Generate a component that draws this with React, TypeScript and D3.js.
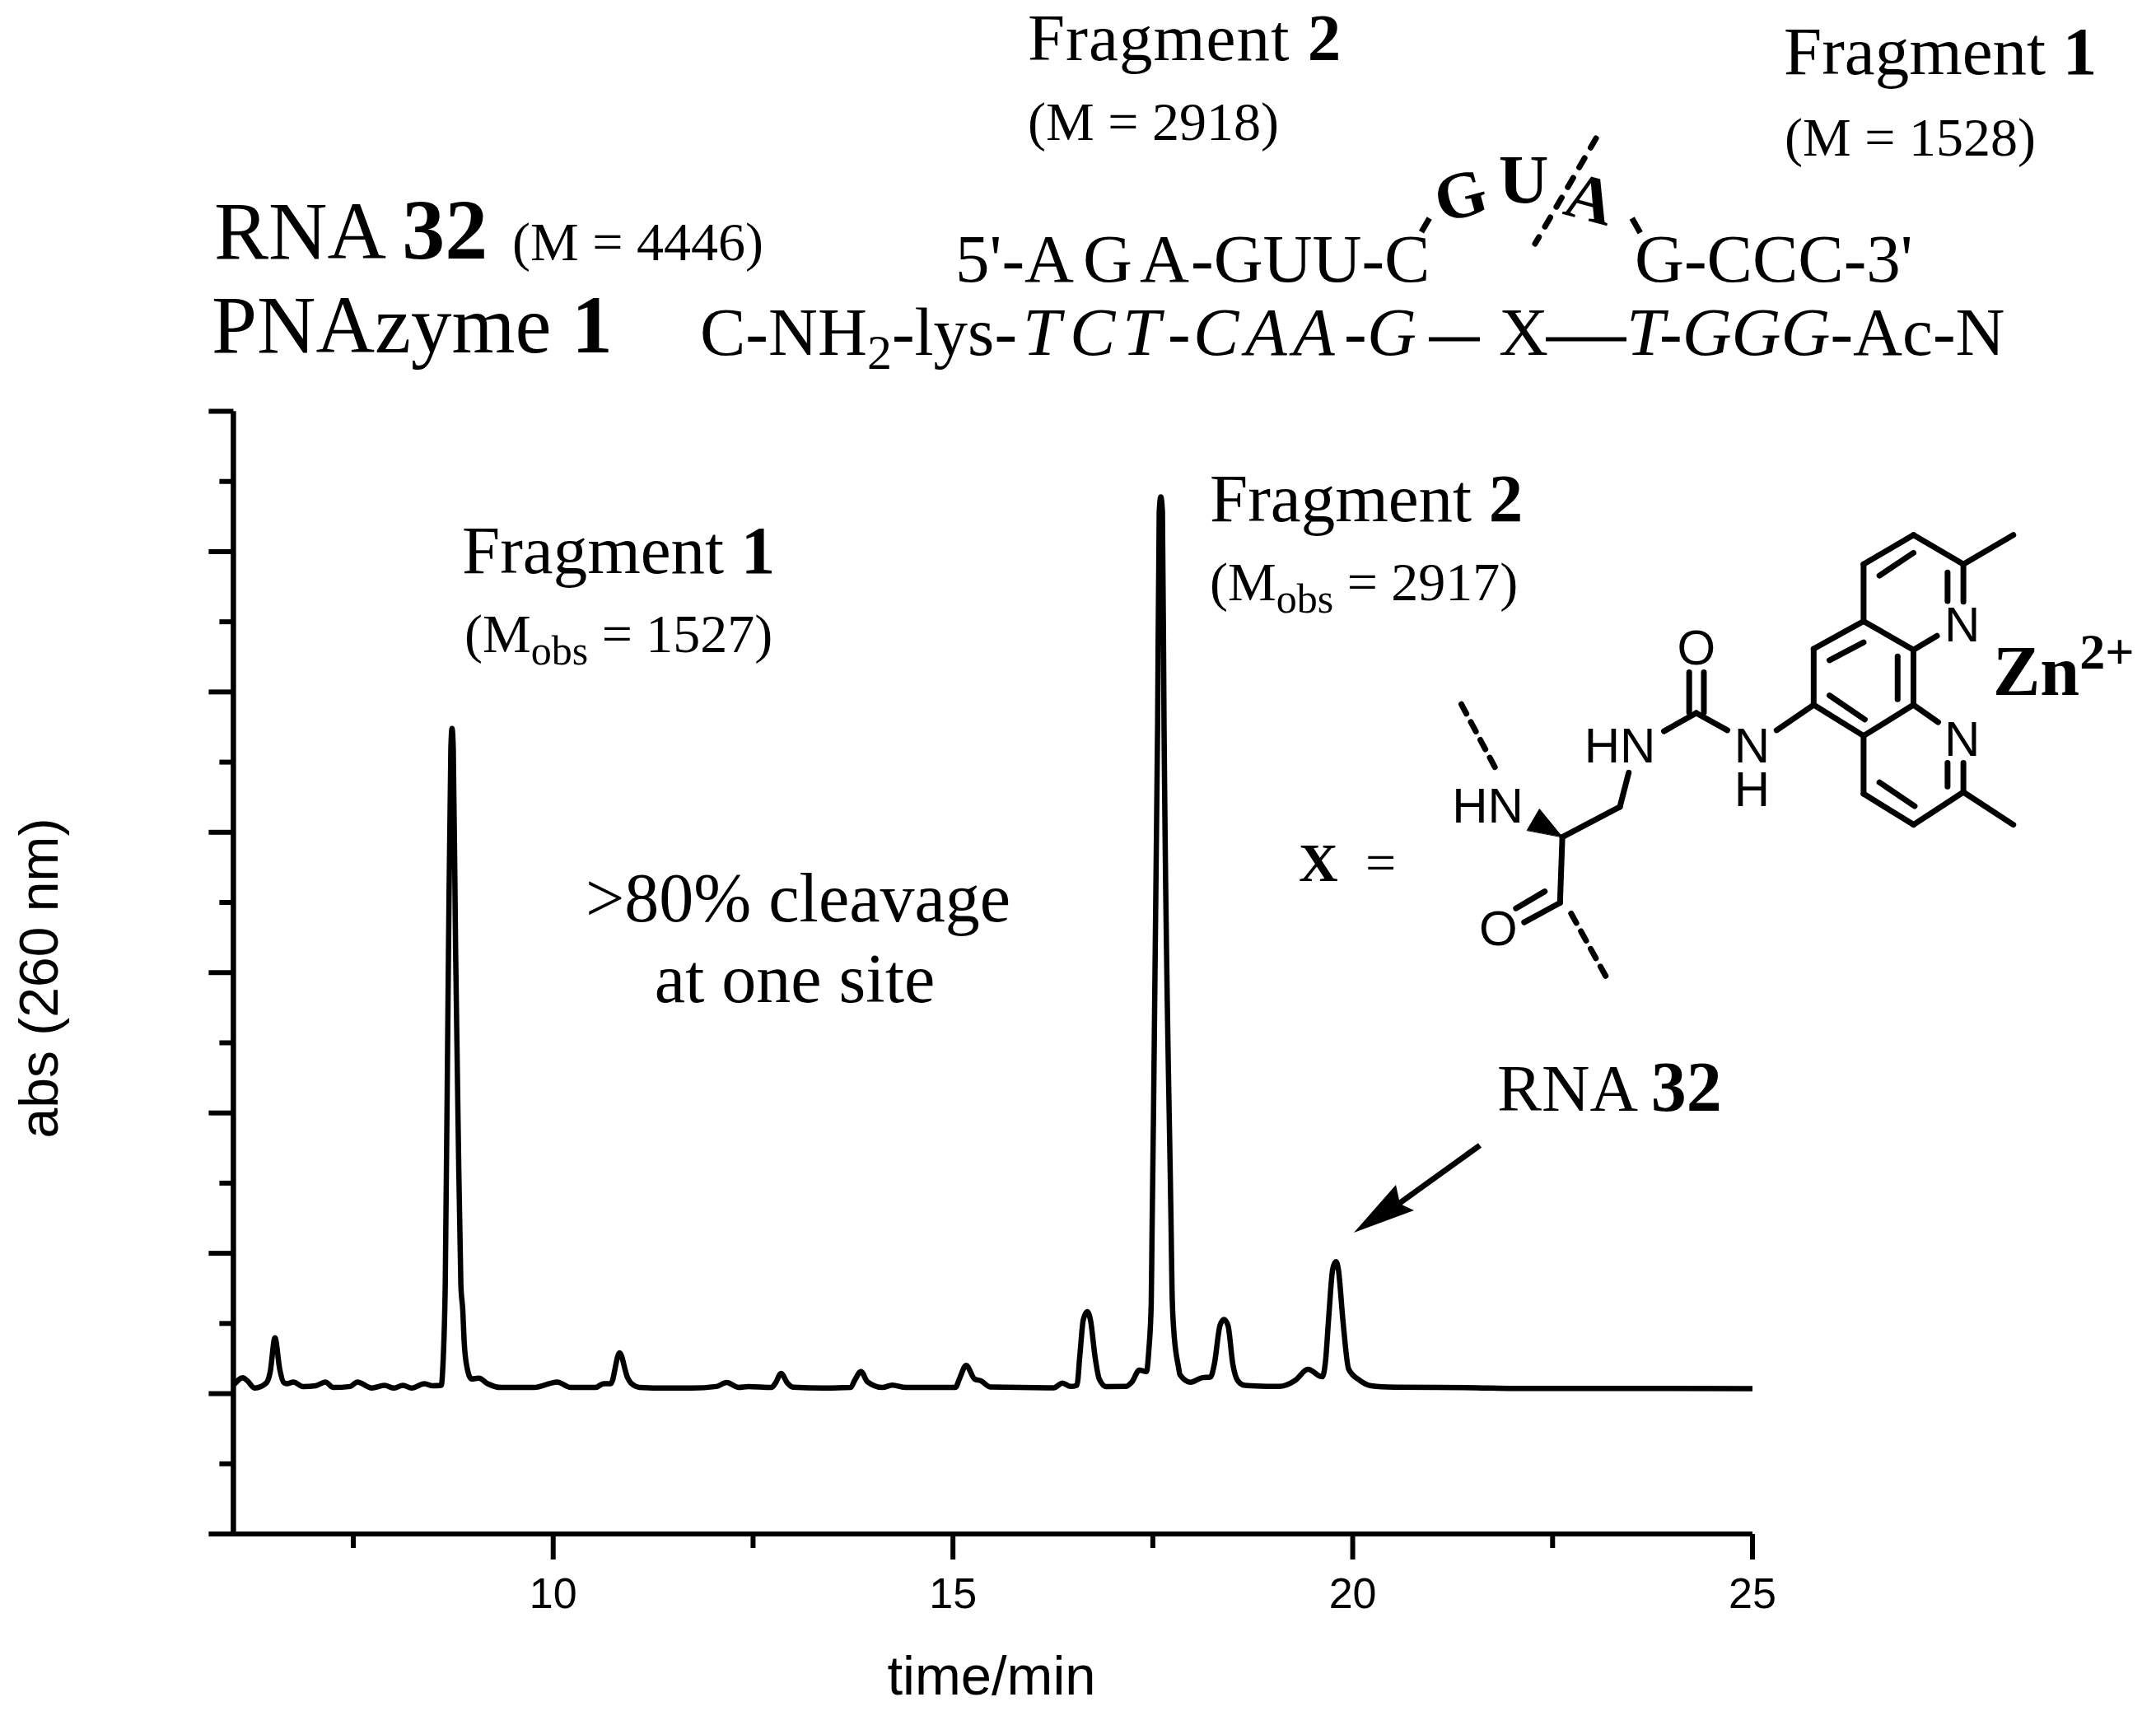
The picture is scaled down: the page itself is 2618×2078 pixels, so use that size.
import { useEffect, useRef } from "react";
import { select, scaleLinear, axisBottom, axisLeft, line, curveMonotoneX } from "d3";

const WIDTH = 2618;
const HEIGHT = 2078;
const SERIF = "'Liberation Serif', serif";
const SANS = "'Liberation Sans', sans-serif";

// HPLC trace: minutes and absorbance (arbitrary units, one major tick = 100)
const times = [
  6.01, 6.12, 6.17, 6.27, 6.41, 6.46, 6.52, 6.58, 6.63, 6.67, 6.75, 6.87, 7.03, 7.15, 7.25, 7.46, 7.55, 7.73, 7.89,
  8.01, 8.12, 8.23, 8.39, 8.49, 8.6, 8.62, 8.65, 8.69, 8.72, 8.735, 8.75, 8.78, 8.81, 8.845, 8.87, 8.885, 8.92, 8.98, 9.07,
  9.18, 9.35, 9.76, 10.05, 10.22, 10.53, 10.63, 10.72, 10.83, 10.93, 10.98, 11.08, 11.42, 11.73, 12.04, 12.17, 12.32,
  12.44, 12.73, 12.78, 12.85, 12.93, 13.0, 13.38, 13.72, 13.77, 13.85, 13.93, 14.12, 14.24, 14.41, 15.03, 15.08,
  15.165, 15.27, 15.35, 15.47, 16.26, 16.37, 16.47, 16.55, 16.59, 16.63, 16.68, 16.72, 16.78, 16.83, 16.92, 17.16,
  17.24, 17.33, 17.42, 17.45, 17.48, 17.49, 17.56, 17.58, 17.6, 17.62, 17.64, 17.73, 17.74, 17.76, 17.82, 17.84,
  17.97, 18.12, 18.22, 18.27, 18.34, 18.39, 18.44, 18.5, 18.56, 18.65, 19.08, 19.28, 19.44, 19.62, 19.66, 19.7,
  19.75, 19.79, 19.82, 19.88, 19.95, 20.09, 20.23, 20.52, 21.55, 22, 25,
];
const absorbance = [
  106.5, 111.4, 109.4, 104, 107.5, 115.3, 139.8, 117.3, 107.9, 107.1, 108.3, 105, 105.6, 108.3, 104.4, 105.1, 108.3,
  104, 105.9, 104, 105.9, 104, 107.1, 105.6, 105.9, 119.2, 178, 412.9, 559.8, 573.9, 559.8, 412.9, 295, 178, 158.6, 138.6,
  119.2, 110.4, 111, 107.1, 104.4, 104.4, 108.3, 104.4, 104.4, 107.1, 107.1, 129.1, 111.4, 107.1, 104.5, 104, 104,
  105.1, 107.9, 104.4, 105, 104.4, 107.5, 114.4, 107.5, 104.6, 104, 104.4, 109.4, 115.7, 108.5, 104.4, 106.1, 104.4,
  104.4, 110.4, 120.2, 110.4, 109.1, 104.7, 104.2, 107.5, 105.1, 105.9, 129.1, 152.5, 158.4, 152.5, 125.1, 110.4, 105,
  105.1, 108.5, 116.7, 115.7, 131, 164.4, 213.2, 577.4, 728.4, 739, 728.4, 577.4, 213.2, 174, 146.7, 119.2, 113.4,
  108.1, 111.4, 111.8, 121.2, 148.6, 152.9, 148.6, 121.2, 109.4, 105.9, 105.1, 109.4, 117.3, 112, 123.2, 154.5, 188.7,
  194, 188.7, 150.6, 117.3, 109.4, 105.6, 104.6, 104.2, 103.7, 103.6,
];

const xMajorTicks = [10, 15, 20, 25];
const xMinorTicks = [7.5, 12.5, 17.5, 22.5];
const yMajorTicks = [0, 100, 200, 300, 400, 500, 600, 700, 800];
const yMinorTicks = [50, 150, 250, 350, 450, 550, 650, 750];

// skeleton of X, in a 1568 x 1568 drawing space mapped onto the lower right of the figure
const bonds = [
  [1070, 340, 1070, 165], [1070, 165, 1155, 75], [1155, 75, 1240, 165], [1240, 165, 1325, 75], [1240, 165, 1240, 280],
  [1213, 190, 1213, 278], [1097, 200, 1155, 130], [1070, 340, 1155, 428], [1155, 428, 1195, 385], [1070, 340, 985, 425],
  [985, 425, 985, 597], [985, 597, 1070, 692], [1070, 692, 1155, 597], [1155, 597, 1155, 428], [1012, 460, 1070, 405],
  [1012, 568, 1072, 642], [1128, 448, 1128, 580], [1155, 597, 1197, 650], [1070, 692, 1070, 870], [1070, 870, 1155, 965],
  [1155, 965, 1240, 865], [1240, 865, 1325, 965], [1240, 865, 1240, 775], [1213, 775, 1213, 848], [1097, 835, 1157, 908],
  [985, 597, 922, 675], [838, 675, 785, 622], [785, 622, 730, 678], [773, 497, 773, 620], [798, 497, 798, 620],
  [670, 805, 655, 910], [655, 910, 557, 1003], [557, 1003, 553, 1205], [553, 1205, 492, 1265], [527, 1170, 478, 1222],
];
const dashedBonds = [
  [385, 595, 447, 805],
  [572, 1238, 637, 1450],
];
const atoms = [
  ["N", 1238, 350], ["N", 1238, 700], ["O", 785, 420],
  ["HN", 655, 720], ["HN", 430, 905], ["O", 448, 1282],
];

const sx = scaleLinear().domain([0, 1568]).range([1500, 2618]);
const sy = scaleLinear().domain([0, 1568]).range([620, 1240]);

function Structure() {
  return (
    <g stroke="#000" strokeWidth={7} strokeLinecap="round">
      {bonds.map((b, i) => (
        <line key={i} x1={sx(b[0])} y1={sy(b[1])} x2={sx(b[2])} y2={sy(b[3])} />
      ))}
      {dashedBonds.map((b, i) => (
        <line key={i} x1={sx(b[0])} y1={sy(b[1])} x2={sx(b[2])} y2={sy(b[3])} strokeDasharray="13 11.5" />
      ))}
      <path d={`M${sx(557)},${sy(1003)}L${sx(518)},${sy(917)}L${sx(497)},${sy(982)}Z`} fill="#000" strokeWidth={1} />
      <g textAnchor="middle" fontFamily={SANS} fontSize={60} stroke="none" fill="#000">
        {atoms.map((a, i) => (
          <text key={i} x={sx(a[1])} y={sy(a[2]) + 21}>
            {a[0]}
          </text>
        ))}
        {/* urea NH, stacked */}
        <text y={sy(720) + 21}>
          <tspan x={sx(880)}>N</tspan>
          <tspan x={sx(880)} dy={53}>H</tspan>
        </text>
      </g>
    </g>
  );
}

function App() {
  const svgRef = useRef(null);

  useEffect(() => {
    const svg = select(svgRef.current);
    const xScale = scaleLinear().domain([6, 25]).range([283.4, 2128]);
    const yScale = scaleLinear().domain([0, 800]).range([1863, 499.5]);

    const trace = line()
      .x((d) => xScale(d[0]))
      .y((d) => yScale(d[1]))
      .curve(curveMonotoneX);

    svg
      .select(".trace")
      .selectAll("path")
      .data([times.map((t, i) => [t, absorbance[i]])])
      .join("path")
      .attr("d", trace)
      .attr("fill", "none")
      .attr("stroke", "#000")
      .attr("stroke-width", 6.5)
      .attr("stroke-linejoin", "round");

    const xMajor = axisBottom(xScale).tickValues(xMajorTicks).tickSize(31).tickSizeOuter(0).tickPadding(22).offset(0);
    const xMinor = axisBottom(xScale).tickValues(xMinorTicks).tickSize(17).tickSizeOuter(0).tickFormat(() => "").offset(0);
    const yMajor = axisLeft(yScale).tickValues(yMajorTicks).tickSize(30).tickSizeOuter(0).tickFormat(() => "").offset(0);
    const yMinor = axisLeft(yScale).tickValues(yMinorTicks).tickSize(17).tickSizeOuter(0).tickFormat(() => "").offset(0);

    svg.select(".x-major").attr("transform", "translate(0,1863)").call(xMajor);
    svg.select(".x-minor").attr("transform", "translate(0,1863)").call(xMinor);
    svg.select(".y-major").attr("transform", "translate(283.4,0)").call(yMajor);
    svg.select(".y-minor").attr("transform", "translate(283.4,0)").call(yMinor);

    svg.selectAll(".axis path, .axis line").attr("stroke", "#000").attr("stroke-width", 6);
    svg
      .selectAll(".axis text")
      .attr("font-family", SANS)
      .attr("font-size", 52)
      .attr("fill", "#000");
  }, []);

  return (
    <svg
      ref={svgRef}
      width={WIDTH}
      height={HEIGHT}
      viewBox={`0 0 ${WIDTH} ${HEIGHT}`}
      style={{ position: "absolute", left: 0, top: 0, background: "#fff" }}
    >
      <g className="axis y-minor" />
      <g className="axis y-major" />
      <g className="axis x-minor" />
      <g className="axis x-major" />
      <g className="trace" />

      <text x={1204} y={2058} textAnchor="middle" fontFamily={SANS} fontSize={67}>time/min</text>
      <text transform="translate(70,1188) rotate(-90)" textAnchor="middle" fontFamily={SANS} fontSize={66}>abs (260 nm)</text>

      <g fontFamily={SERIF} fill="#000">
        {/* header */}
        <text x={1248} y={73} fontSize={81} letterSpacing={1}>Fragment <tspan fontWeight="bold">2</tspan></text>
        <text x={1248} y={170} fontSize={66}>(M = 2918)</text>
        <text x={2166} y={90} fontSize={83}>Fragment <tspan fontWeight="bold">1</tspan></text>
        <text x={2167} y={189} fontSize={66}>(M = 1528)</text>
        <text x={260} y={314} fontSize={99}>RNA <tspan fontWeight="bold" fontSize={104}>32</tspan></text>
        <text x={622} y={316} fontSize={66}>(M = 4446)</text>
        <text x={257} y={428} fontSize={99}>PNAzyme <tspan fontWeight="bold">1</tspan></text>

        {/* RNA strand */}
        <g fontSize={83}>
          <text x={1160} y={342}>5'-A</text>
          <text x={1315} y={342}>G</text>
          <text x={1384} y={342}>A</text>
          <text x={1446} y={342}>-GUU-C</text>
          <text x={1985} y={342}>G-CCC-3'</text>
        </g>
        <g fontWeight="bold" textAnchor="middle">
          <text transform="translate(1773,236) rotate(-15)" y={28} fontSize={80}>G</text>
          <text x={1850} y={247} fontSize={84}>U</text>
          <text transform="translate(1931,241) rotate(15)" y={27} fontSize={80}>A</text>
        </g>
        <g stroke="#000" strokeWidth={7}>
          <line x1={1735.7} y1={265} x2={1726} y2={281.7} />
          <line x1={1981.7} y1={265} x2={1991.7} y2={282.7} />
          <line x1={1938} y1={168} x2={1864} y2={296} strokeDasharray="13 14.7" strokeLinecap="round" />
        </g>

        {/* PNA strand */}
        <g fontSize={83}>
          <text x={850} y={431}>
            C-NH<tspan fontSize={60} dy={17}>2</tspan><tspan dy={-17}>-lys-</tspan>
          </text>
          <text y={431} x="1242 1299 1363 1418 1449 1512 1570 1632 1660" fontStyle="italic">TCT-CAA-G</text>
          <text x={1820} y={431}>X</text>
          <text x={1975} y={431}><tspan fontStyle="italic">T-GGG</tspan>-Ac-N</text>
        </g>
        <g stroke="#000" strokeWidth={5}>
          <line x1={1735} y1={412} x2={1797} y2={412} />
          <line x1={1877} y1={412} x2={1975} y2={412} />
        </g>

        {/* annotations */}
        <text x={561} y={696} fontSize={83}>Fragment <tspan fontWeight="bold">1</tspan></text>
        <text x={564} y={792} fontSize={66}>(M<tspan fontSize={50} dy={15}>obs</tspan><tspan dy={-15}> = 1527)</tspan></text>
        <text x={1469} y={633} fontSize={83}>Fragment <tspan fontWeight="bold">2</tspan></text>
        <text x={1469} y={729} fontSize={66}>(M<tspan fontSize={50} dy={15}>obs</tspan><tspan dy={-15}> = 2917)</tspan></text>
        <text x={969} y={1119} fontSize={84} textAnchor="middle">&gt;80% cleavage</text>
        <text x={965} y={1217} fontSize={84} textAnchor="middle">at one site</text>
        <text x={1818} y={1349} fontSize={81}>RNA <tspan fontWeight="bold" fontSize={86}>32</tspan></text>

        <text x={1577} y={1070} fontSize={66} fontWeight="bold">X</text>
        <text x={1658} y={1070} fontSize={66}>=</text>
        <text x={2420} y={844} fontSize={86} fontWeight="bold">Zn<tspan fontSize={62} dy={-32}>2+</tspan></text>
      </g>

      <Structure />

      {/* arrow to the RNA 32 peak */}
      <line x1={1797} y1={1391} x2={1697} y2={1463} stroke="#000" strokeWidth={7} />
      <path d="M1644,1497L1695,1439L1700,1462L1717,1470Z" fill="#000" />
    </svg>
  );
}

export default App;
